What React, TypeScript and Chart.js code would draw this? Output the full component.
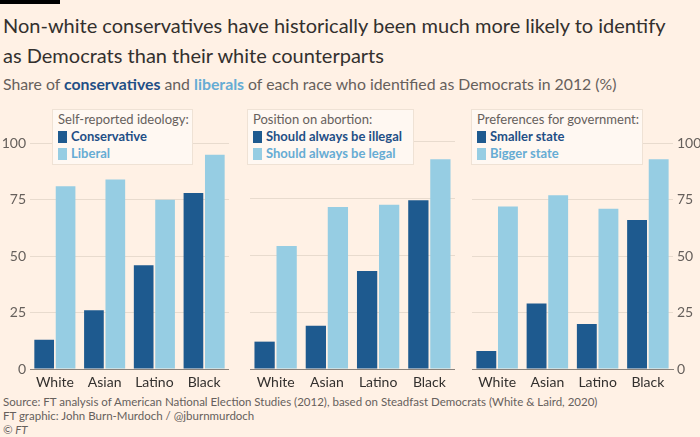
import React, { useEffect, useRef } from "react";
import { Chart, registerables } from "chart.js";

Chart.register(...registerables);

// ---------- data ----------
const races = ["White", "Asian", "Latino", "Black"];
const ideologyConservative = [13, 26, 46, 78];
const ideologyLiberal = [81, 84, 75, 95];
const abortionIllegal = [12, 19, 43, 74];
const abortionLegal = [54, 71, 72, 92];
const govSmaller = [8, 29, 20, 66];
const govBigger = [72, 77, 71, 93];
const yTicks = [0, 25, 50, 75, 100];

// ---------- styles ----------
const BG = "#FFF1E5";
const DARK = "#1e5a8f";
const LIGHT = "#96cde3";
const DARK_TEXT = "#1f4f86";
const LIGHT_TEXT = "#66acd4";
const GRID = "#e8dbce";
const AXIS = "#8a827b";
const TEXT = "#33302e";
const MUTED = "#66605c";
const FONT = 'Lato, "Noto Sans", sans-serif';

type AxisMode = "left" | "none" | "right";

interface PanelProps {
  left: number;
  top: number;
  width: number;
  height: number;
  axis: AxisMode;
  a: number[];
  b: number[];
  labelA: string;
  labelB: string;
}

function Panel({ left, top, width, height, axis, a, b, labelA, labelB }: PanelProps) {
  const ref = useRef<HTMLCanvasElement | null>(null);
  useEffect(() => {
    if (!ref.current) return;
    const chart = new Chart(ref.current, {
      type: "bar",
      data: {
        labels: races,
        datasets: [
          {
            label: labelA,
            data: a,
            backgroundColor: DARK,
            borderWidth: 0,
            categoryPercentage: 0.86,
            barPercentage: 0.92,
          },
          {
            label: labelB,
            data: b,
            backgroundColor: LIGHT,
            borderWidth: 0,
            categoryPercentage: 0.86,
            barPercentage: 0.92,
          },
        ],
      },
      options: {
        animation: false,
        responsive: false,
        maintainAspectRatio: false,
        layout: { padding: { top: 10, left: 0, right: 0, bottom: 0 } },
        plugins: { legend: { display: false }, tooltip: { enabled: false } },
        scales: {
          x: {
            grid: { display: false, drawTicks: false },
            border: { display: true, color: AXIS, width: 1 },
            ticks: {
              color: TEXT,
              font: { family: FONT, size: 14 },
              padding: 5,
              maxRotation: 0,
            },
            afterFit: (s: any) => {
              s.height = 26;
            },
          },
          y: {
            position: axis === "right" ? "right" : "left",
            min: 0,
            max: 100,
            afterBuildTicks: (s: any) => {
              s.ticks = yTicks.map((v) => ({ value: v }));
            },
            grid: {
              drawTicks: false,
              color: (ctx: any) => (ctx.tick && ctx.tick.value === 0 ? "rgba(0,0,0,0)" : GRID),
              lineWidth: 1,
            },
            border: { display: false },
            ticks: {
              display: axis !== "none",
              color: MUTED,
              font: { family: FONT, size: 14 },
              padding: 4,
            },
            afterFit: (s: any) => {
              s.width = axis === "none" ? 0 : axis === "left" ? 30 : 27;
            },
          },
        },
      },
    } as any);
    return () => chart.destroy();
  }, []);
  return (
    <canvas
      ref={ref}
      width={width}
      height={height}
      style={{ position: "absolute", left, top, width, height }}
    />
  );
}

function Legend({
  left,
  top,
  width,
  title,
  a,
  b,
}: {
  left: number;
  top: number;
  width: number;
  title: string;
  a: string;
  b: string;
}) {
  const sw = (c: string) => (
    <span
      style={{
        display: "inline-block",
        width: 9,
        height: 12,
        background: c,
        marginRight: 4,
        verticalAlign: "-2px",
      }}
    />
  );
  return (
    <div
      style={{
        position: "absolute",
        left,
        top,
        width,
        boxSizing: "border-box",
        background: "#FFF8F2",
        border: "1px solid #efe2d5",
        padding: "1px 4px 2px 5px",
        fontFamily: FONT,
        fontSize: 13,
        lineHeight: "17px",
        whiteSpace: "nowrap",
      }}
    >
      <div style={{ color: MUTED }}>{title}</div>
      <div style={{ color: DARK_TEXT, fontWeight: 700 }}>
        {sw(DARK)}
        {a}
      </div>
      <div style={{ color: LIGHT_TEXT, fontWeight: 700 }}>
        {sw(LIGHT)}
        {b}
      </div>
    </div>
  );
}

export default function App() {
  return (
    <div
      style={{
        position: "absolute",
        left: 0,
        top: 0,
        width: 700,
        height: 437,
        background: BG,
        overflow: "hidden",
        fontFamily: FONT,
      }}
    >
      <div style={{ position: "absolute", left: 0, top: 0, width: 60, height: 4, background: "#000" }} />
      <div
        style={{
          position: "absolute",
          left: 3,
          top: 10,
          fontSize: 20,
          lineHeight: "30px",
          color: TEXT,
          whiteSpace: "nowrap",
        }}
      >
        Non-white conservatives have historically been much more likely to identify
        <br />
        as Democrats than their white counterparts
      </div>
      <div
        style={{
          position: "absolute",
          left: 3,
          top: 74,
          fontSize: 15.8,
          lineHeight: "19px",
          color: MUTED,
          whiteSpace: "nowrap",
        }}
      >
        Share of <span style={{ color: DARK_TEXT, fontWeight: 700 }}>conservatives</span> and{" "}
        <span style={{ color: LIGHT_TEXT, fontWeight: 700 }}>liberals</span> of each race who identified
        as Democrats in 2012 (%)
      </div>

      <Panel left={0} top={131} width={229} height={264} axis="left" a={ideologyConservative} b={ideologyLiberal} labelA="Conservative" labelB="Liberal" />
      <Panel left={250} top={131} width={205} height={264} axis="none" a={abortionIllegal} b={abortionLegal} labelA="Should always be illegal" labelB="Should always be legal" />
      <Panel left={472} top={131} width={228} height={264} axis="right" a={govSmaller} b={govBigger} labelA="Smaller state" labelB="Bigger state" />

      <Legend left={52} top={109} width={141} title="Self-reported ideology:" a="Conservative" b="Liberal" />
      <Legend left={247} top={109} width={167} title="Position on abortion:" a="Should always be illegal" b="Should always be legal" />
      <Legend left={471} top={109} width={172} title="Preferences for government:" a="Smaller state" b="Bigger state" />

      <div
        style={{
          position: "absolute",
          left: 3,
          top: 395,
          fontSize: 11.5,
          lineHeight: "14px",
          color: MUTED,
          whiteSpace: "nowrap",
        }}
      >
        Source: FT analysis of American National Election Studies (2012), based on Steadfast Democrats (White &amp;
        Laird, 2020)
        <br />
        FT graphic: John Burn-Murdoch / @jburnmurdoch
        <br />
        <i>© FT</i>
      </div>
    </div>
  );
}
